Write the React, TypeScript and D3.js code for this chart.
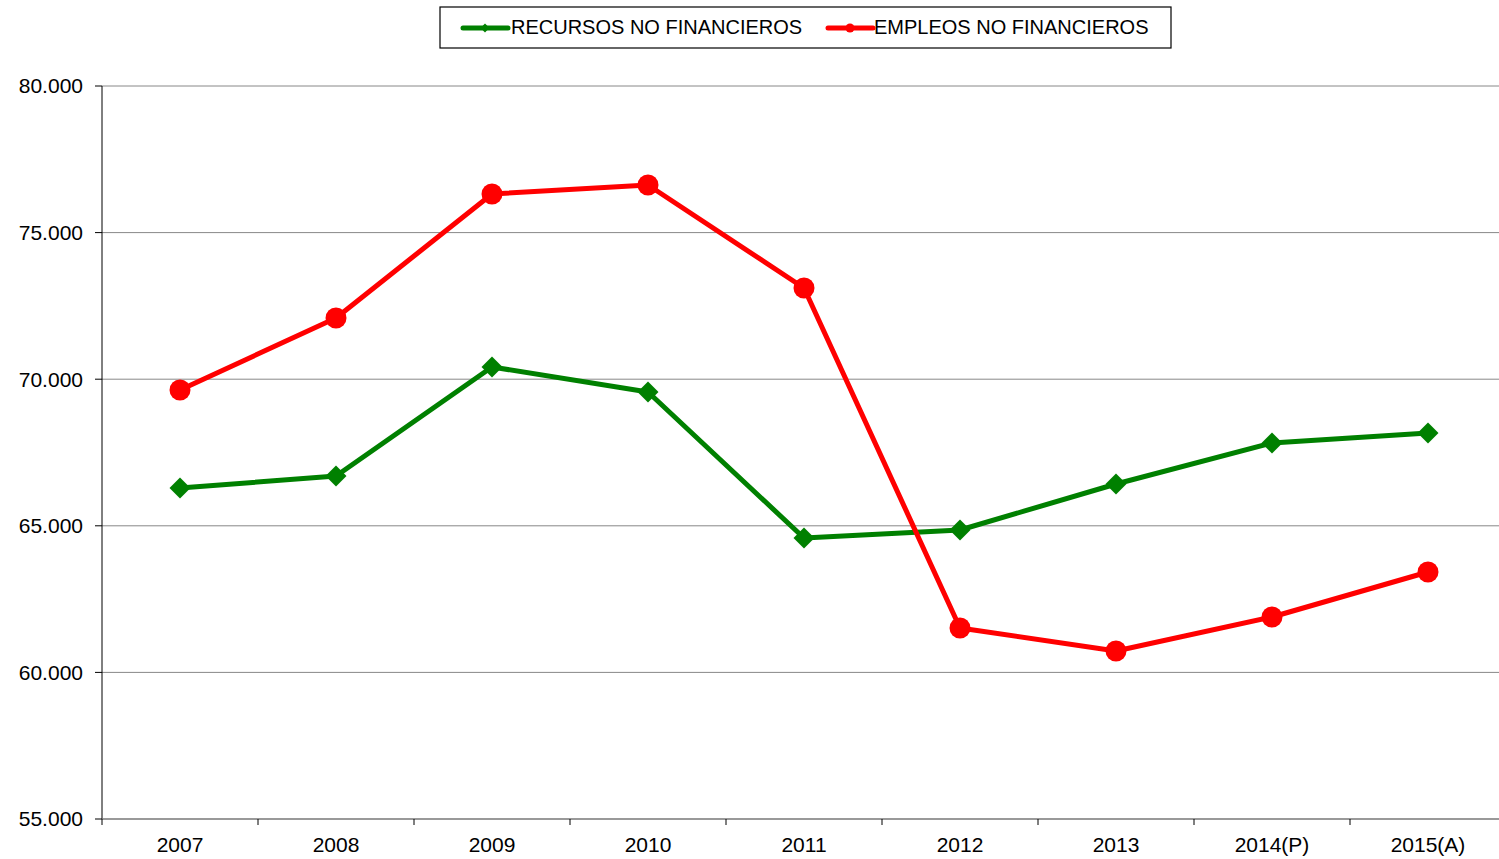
import React, { useEffect, useRef } from "react";
import * as d3 from "d3";

const categories = ["2007", "2008", "2009", "2010", "2011", "2012", "2013", "2014(P)", "2015(A)"];
const recursos = [66289, 66698, 70416, 69563, 64584, 64857, 66425, 67824, 68165];
const empleos = [69632, 72087, 76317, 76624, 73110, 61514, 60730, 61890, 63425];
const yTicks = [55000, 60000, 65000, 70000, 75000, 80000];
const seriesNames = ["RECURSOS NO FINANCIEROS", "EMPLEOS NO FINANCIEROS"];

const W = 1499, H = 859;
const FONT = "'Liberation Sans', Arial, sans-serif";

export default function App() {
  const ref = useRef<SVGSVGElement>(null);
  useEffect(() => {
    const svg = d3.select(ref.current);
    svg.selectAll("*").remove();
    const left = 102, right = 1506, top = 86, bottom = 819;
    const x = d3.scaleBand().domain(categories).range([left, right]);
    const y = d3.scaleLinear().domain([55000, 80000]).range([bottom, top]);
    const cx = (c: string) => (x(c) as number) + x.bandwidth() / 2;

    // gridlines
    svg.append("g").selectAll("line").data(yTicks.filter(t => t !== 55000)).join("line")
      .attr("x1", left).attr("x2", W).attr("y1", d => y(d)).attr("y2", d => y(d))
      .attr("stroke", "#888").attr("stroke-width", 1);
    // y axis
    svg.append("line").attr("x1", left).attr("x2", left).attr("y1", top).attr("y2", bottom)
      .attr("stroke", "#000").attr("stroke-width", 1);
    svg.append("g").selectAll("line").data(yTicks).join("line")
      .attr("x1", left - 7).attr("x2", left).attr("y1", d => y(d)).attr("y2", d => y(d))
      .attr("stroke", "#000");
    svg.append("g").selectAll("text").data(yTicks).join("text")
      .attr("x", left - 19).attr("y", d => y(d)).attr("dy", "0.35em")
      .attr("text-anchor", "end").attr("font-family", FONT).attr("font-size", 21).attr("fill", "#000")
      .text(d => d3.format(".3f")(d / 1000));
    // x axis
    svg.append("line").attr("x1", left).attr("x2", W).attr("y1", bottom).attr("y2", bottom)
      .attr("stroke", "#777").attr("stroke-width", 1.5);
    const bounds = categories.map(c => x(c) as number);
    svg.append("g").selectAll("line").data(bounds).join("line")
      .attr("x1", d => d).attr("x2", d => d).attr("y1", bottom).attr("y2", bottom + 6)
      .attr("stroke", "#000");
    svg.append("g").selectAll("text").data(categories).join("text")
      .attr("x", d => cx(d)).attr("y", bottom + 33)
      .attr("text-anchor", "middle").attr("font-family", FONT).attr("font-size", 21).attr("fill", "#000")
      .text(d => d);

    const line = d3.line<number>().x((_, i) => cx(categories[i])).y(d => y(d));
    // green
    svg.append("path").attr("d", line(recursos)).attr("fill", "none")
      .attr("stroke", "#008000").attr("stroke-width", 5).attr("stroke-linejoin", "round");
    const diamond = d3.symbol().type(d3.symbolDiamond2).size(280);
    svg.append("g").selectAll("path").data(recursos).join("path")
      .attr("transform", (d, i) => `translate(${cx(categories[i])},${y(d)})`)
      .attr("d", diamond() as string).attr("fill", "#008000");
    // red
    svg.append("path").attr("d", line(empleos)).attr("fill", "none")
      .attr("stroke", "#ff0000").attr("stroke-width", 5).attr("stroke-linejoin", "round");
    svg.append("g").selectAll("circle").data(empleos).join("circle")
      .attr("cx", (d, i) => cx(categories[i])).attr("cy", d => y(d)).attr("r", 10.5)
      .attr("fill", "#ff0000");

    // legend
    const lg = svg.append("g");
    lg.append("rect").attr("x", 440).attr("y", 7).attr("width", 731).attr("height", 41)
      .attr("fill", "#fff").attr("stroke", "#000").attr("stroke-width", 1.2);
    const items = [
      { name: seriesNames[0], color: "#008000", x0: 463, tx: 511, sym: "d" },
      { name: seriesNames[1], color: "#ff0000", x0: 828, tx: 874, sym: "c" },
    ];
    items.forEach(it => {
      lg.append("line").attr("x1", it.x0).attr("x2", it.x0 + 45).attr("y1", 28).attr("y2", 28)
        .attr("stroke", it.color).attr("stroke-width", 5).attr("stroke-linecap", "round");
      if (it.sym === "d") {
        lg.append("path").attr("transform", `translate(${it.x0 + 22},28)`)
          .attr("d", d3.symbol().type(d3.symbolDiamond2).size(50)() as string).attr("fill", it.color);
      } else {
        lg.append("circle").attr("cx", it.x0 + 22).attr("cy", 28).attr("r", 4.5).attr("fill", it.color);
      }
      lg.append("text").attr("x", it.tx).attr("y", 27).attr("dy", "0.35em")
        .attr("font-family", FONT).attr("font-size", 20).attr("fill", "#000").text(it.name);
    });
  }, []);
  return (
    <svg ref={ref} width={W} height={H}
      style={{ position: "absolute", left: 0, top: 0, background: "#fff", display: "block" }} />
  );
}
